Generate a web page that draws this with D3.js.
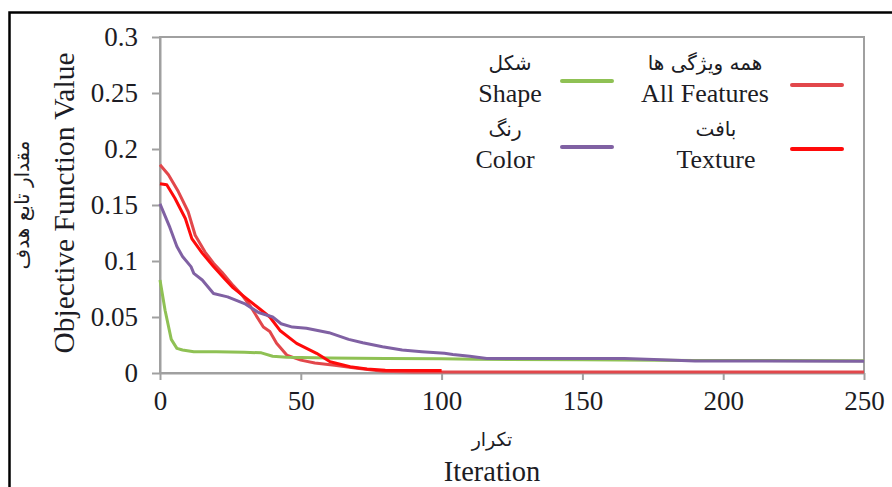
<!DOCTYPE html>
<html>
<head>
<meta charset="utf-8">
<script src="https://cdn.jsdelivr.net/npm/d3@7"></script>
<style>
  body { margin: 0; background: #fff; }
  svg { display: block; }
  .axis path, .axis line { stroke: #a0a0a0; stroke-width: 2; }
  .axis text { font-family: "Liberation Serif", serif; font-size: 27px; fill: #1c1c24; }
  .fa { font-family: "DejaVu Sans", sans-serif; fill: #1c1c24; }
  .en { font-family: "Liberation Serif", serif; fill: #1c1c24; }
</style>
</head>
<body>
<div id="chart"></div>
<script>
var width = 892;
var height = 487;

// [iteration, value]
var allFeaturesData = [[0, 0.186], [3, 0.177], [6.5, 0.162], [10, 0.144], [12.5, 0.123], [16, 0.108], [19, 0.098], [22, 0.09], [26, 0.078], [29, 0.07], [32, 0.06], [36.7, 0.041], [39, 0.037], [41.4, 0.0265], [45, 0.016], [50, 0.0115], [55, 0.009], [62, 0.007], [70, 0.0042], [79, 0.0015], [90, 0.001], [250, 0.001]];
var shapeData = [[0, 0.083], [1.8, 0.056], [4, 0.03], [6, 0.022], [8, 0.0205], [12, 0.019], [20, 0.019], [30, 0.0185], [36, 0.018], [40, 0.015], [45, 0.014], [60, 0.0135], [80, 0.013], [100, 0.0128], [112, 0.0122], [150, 0.0118], [190, 0.0112], [250, 0.011]];
var textureData = [[0, 0.169], [2.4, 0.168], [5.3, 0.156], [9, 0.138], [11.3, 0.12], [15, 0.107], [19, 0.095], [23, 0.084], [26, 0.076], [31, 0.066], [35, 0.058], [39, 0.05], [42.6, 0.038], [48.5, 0.0265], [55.6, 0.0176], [60.4, 0.0101], [67.5, 0.0056], [73.5, 0.0036], [80, 0.0025], [100, 0.0022]];
var colorData = [[0, 0.151], [3.5, 0.13], [6, 0.113], [8, 0.104], [11, 0.095], [12, 0.089], [15, 0.083], [19, 0.071], [24, 0.068], [30, 0.062], [35, 0.054], [40, 0.05], [43, 0.044], [47, 0.041], [52, 0.04], [60, 0.036], [67, 0.03], [72, 0.027], [79, 0.0235], [86, 0.0205], [93, 0.019], [101, 0.0176], [104, 0.0165], [110, 0.015], [116, 0.013], [165, 0.013], [178, 0.0118], [190, 0.0108], [250, 0.0105]];

var seriesNames = ["All Features", "Shape", "Texture", "Color"];
var seriesNamesFa = ["همه ویژگی ها", "شکل", "بافت", "رنگ"];
var seriesColors = ["#e2474b", "#8fc154", "#ff0a0a", "#8061a3"];
var seriesData = [allFeaturesData, shapeData, textureData, colorData];

var xTicks = [0, 50, 100, 150, 200, 250];
var yTicks = [0, 0.05, 0.1, 0.15, 0.2, 0.25, 0.3];

var svg = d3.select("#chart").append("svg")
  .attr("width", width)
  .attr("height", height);

// outer frame (only top and left edges are inside the picture)
svg.append("rect")
  .attr("x", 9.5).attr("y", 12.5)
  .attr("width", 900).attr("height", 500)
  .attr("fill", "none")
  .attr("stroke", "#000")
  .attr("stroke-width", 2.5);

var plot = { left: 160, top: 37, right: 864, bottom: 373 };

var x = d3.scaleLinear().domain([0, 250]).range([plot.left, plot.right]);
var y = d3.scaleLinear().domain([0, 0.3]).range([plot.bottom, plot.top]);

// plot border
svg.append("rect")
  .attr("x", plot.left).attr("y", plot.top)
  .attr("width", plot.right - plot.left).attr("height", plot.bottom - plot.top)
  .attr("fill", "none")
  .attr("stroke", "#a0a0a0")
  .attr("stroke-width", 2);

svg.append("g")
  .classed("axis", true)
  .attr("transform", "translate(0," + plot.bottom + ")")
  .call(d3.axisBottom(x).tickValues(xTicks).tickSize(7).tickPadding(11).tickSizeOuter(0));

svg.append("g")
  .classed("axis", true)
  .attr("transform", "translate(" + plot.left + ",0)")
  .call(d3.axisLeft(y).tickValues(yTicks).tickFormat(d3.format("~g")).tickSize(8).tickPadding(14).tickSizeOuter(0));

var line = d3.line()
  .x(function (d) { return x(d[0]); })
  .y(function (d) { return y(d[1]); });

svg.append("g").selectAll("path")
  .data(seriesData)
  .enter().append("path")
  .attr("d", line)
  .attr("fill", "none")
  .attr("stroke", function (d, i) { return seriesColors[i]; })
  .attr("stroke-width", 3)
  .attr("stroke-linejoin", "round");

// axis titles
svg.append("text").classed("en", true)
  .attr("transform", "translate(74,203) rotate(-90)")
  .attr("text-anchor", "middle")
  .style("font-size", "29.5px")
  .text("Objective Function Value");
svg.append("text").classed("fa", true)
  .attr("transform", "translate(29,205) rotate(-90)")
  .attr("text-anchor", "middle")
  .style("font-size", "20px")
  .text("مقدار تابع هدف");
svg.append("text").classed("en", true)
  .attr("x", 492).attr("y", 481)
  .attr("text-anchor", "middle")
  .style("font-size", "28.5px")
  .text("Iteration");
svg.append("text").classed("fa", true)
  .attr("x", 492).attr("y", 446)
  .attr("text-anchor", "middle")
  .style("font-size", "19px")
  .text("تکرار");

// legend: right column first, text left of the swatch
var legendPos = [
  { tx: 705, sx: 792, row: 0 },
  { tx: 510, sx: 562, row: 0 },
  { tx: 716, sx: 792, row: 1 },
  { tx: 505, sx: 562, row: 1 }
];
var legend = svg.append("g").selectAll("g")
  .data(seriesNames)
  .enter().append("g")
  .attr("transform", function (d, i) { return "translate(0," + (legendPos[i].row * 66) + ")"; });

legend.append("text").classed("fa", true)
  .attr("x", function (d, i) { return legendPos[i].tx; })
  .attr("y", 70)
  .attr("text-anchor", "middle")
  .style("font-size", "20px")
  .text(function (d, i) { return seriesNamesFa[i]; });
legend.append("text").classed("en", true)
  .attr("x", function (d, i) { return legendPos[i].tx; })
  .attr("y", 102)
  .attr("text-anchor", "middle")
  .style("font-size", "26px")
  .text(function (d) { return d; });
legend.append("line")
  .attr("x1", function (d, i) { return legendPos[i].sx; })
  .attr("x2", function (d, i) { return legendPos[i].sx + 50; })
  .attr("y1", function (d, i) { return i === 0 ? 85 : (i === 2 ? 83 : 81); })
  .attr("y2", function (d, i) { return i === 0 ? 85 : (i === 2 ? 83 : 81); })
  .attr("stroke", function (d, i) { return seriesColors[i]; })
  .attr("stroke-width", 4)
  .attr("stroke-linecap", "round");
</script>
</body>
</html>
